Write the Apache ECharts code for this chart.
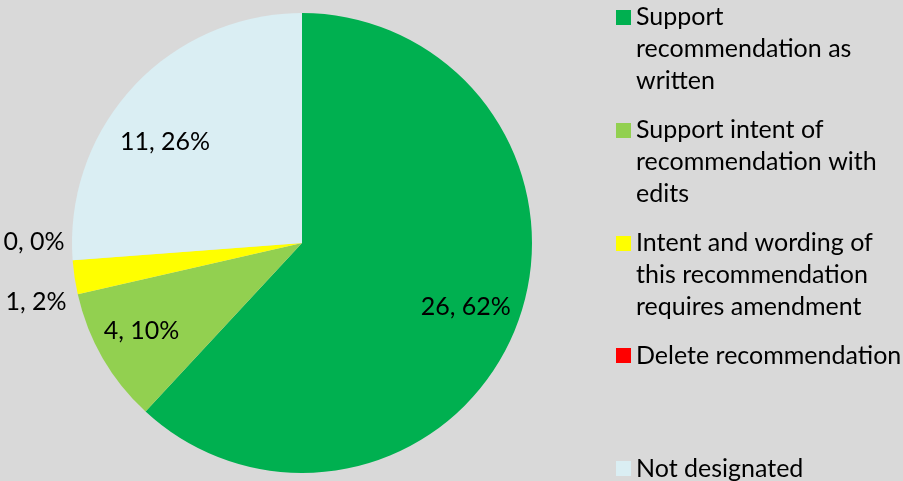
<!DOCTYPE html>
<html>
<head>
<meta charset="utf-8">
<script src="https://cdn.jsdelivr.net/npm/echarts@6/dist/echarts.min.js"></script>
<style>
html,body{margin:0;padding:0;background:#d9d9d9;}
#chart{width:903px;height:481px;}
</style>
</head>
<body>
<div id="chart"></div>
<script>
const categories = [
  'Support recommendation as written',
  'Support intent of recommendation with edits',
  'Intent and wording of this recommendation requires amendment',
  'Delete recommendation',
  'Not designated'
];
const counts = [26, 4, 1, 0, 11];
const colors = ['#00b050', '#92d050', '#ffff00', '#ff0000', '#daeef3'];
const insideLabelIdx = [0, 1, 4];

const FONT = 'Lato';
const FS = 25;
const LH = 32;

const tallIcon = 'path://M0,0h0.01v0.01h-0.01z M0,9h15v15h-15z M14.99,95.99h0.01v0.01h-0.01z';

const chart = echarts.init(document.getElementById('chart'));

const mainData = categories.map((n, i) => ({
  name: n,
  value: counts[i],
  itemStyle: { color: colors[i] },
  label: { show: insideLabelIdx.indexOf(i) < 0 }
}));
const overlayData = categories.map((n, i) => ({
  name: n,
  value: counts[i],
  label: { show: insideLabelIdx.indexOf(i) >= 0 }
}));

const textStyle = { fontFamily: FONT, fontSize: FS, lineHeight: LH, color: '#000' };

chart.setOption({
  backgroundColor: '#d9d9d9',
  animation: false,
  legend: [
    {
      orient: 'vertical', left: 616, top: 1, padding: 0, height: 340,
      itemWidth: 15, itemHeight: 96, itemGap: 17,
      selectedMode: false,
      data: categories.slice(0, 3).map(n => ({ name: n, icon: tallIcon })),
      textStyle: Object.assign({ width: 270, overflow: 'break' }, textStyle)
    },
    {
      orient: 'vertical', left: 616, top: 339.5, padding: 0, height: 200,
      itemWidth: 15, itemHeight: 15, itemGap: 81,
      selectedMode: false,
      data: categories.slice(3).map(n => ({ name: n, icon: 'rect' })),
      textStyle: Object.assign({ width: 270, overflow: 'break' }, textStyle)
    }
  ],
  series: [
    {
      type: 'pie',
      center: [302, 243],
      radius: 230,
      startAngle: 90,
      clockwise: true,
      percentPrecision: 0,
      avoidLabelOverlap: false,
      emphasis: { disabled: true },
      data: mainData,
      label: Object.assign({ position: 'outside', formatter: '{c}, {d}%' }, textStyle),
      labelLine: { show: false, length: 0, length2: 3 },
      labelLayout: function (p) {
        if (p.dataIndex === 2) return { dy: 25 };
        if (p.dataIndex === 3) return { dy: -18 };
        return {};
      }
    },
    {
      type: 'pie',
      center: [302, 243],
      radius: [116, 230],
      startAngle: 90,
      clockwise: true,
      percentPrecision: 0,
      silent: true,
      emphasis: { disabled: true },
      itemStyle: { color: 'rgba(0,0,0,0)' },
      data: overlayData,
      label: Object.assign({ position: 'inside', formatter: '{c}, {d}%' }, textStyle),
      labelLine: { show: false },
      labelLayout: function (p) {
        if (p.dataIndex === 1) return { dx: -8 };
        if (p.dataIndex === 4) return { dx: -8, dy: 19 };
        return {};
      }
    }
  ]
});
</script>
</body>
</html>
